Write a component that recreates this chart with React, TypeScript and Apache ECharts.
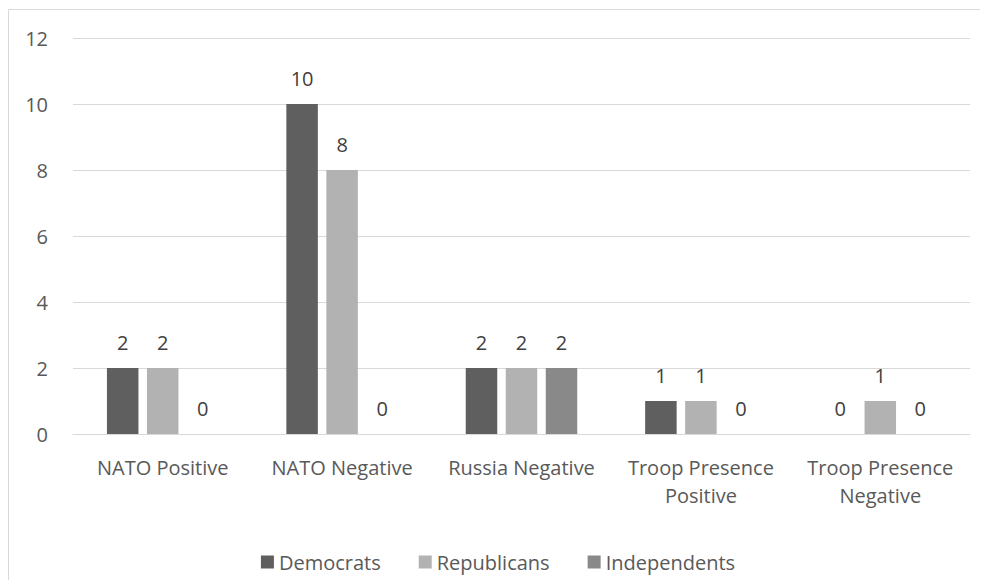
import React, { useEffect, useRef } from "react";
import * as echarts from "echarts";

const categories = [
  "NATO Positive",
  "NATO Negative",
  "Russia Negative",
  "Troop Presence\nPositive",
  "Troop Presence\nNegative",
];
const democrats = [2, 10, 2, 1, 0];
const republicans = [2, 8, 2, 1, 1];
const independents = [0, 0, 2, 0, 0];
const seriesNames = ["Democrats", "Republicans", "Independents"];
const seriesColors = ["#5f5f5f", "#b2b2b2", "#898989"];

const FONT = "'Open Sans', sans-serif";
const FS = 20;

export default function App() {
  const ref = useRef<HTMLDivElement>(null);
  useEffect(() => {
    if (!ref.current) return;
    const chart = echarts.init(ref.current, null, { renderer: "svg" });
    const values = [democrats, republicans, independents];
    chart.setOption({
      animation: false,
      backgroundColor: "#ffffff",
      textStyle: { fontFamily: FONT },
      graphic: [
        {
          type: "rect",
          shape: { x: 0.5, y: 1.5, width: 1200, height: 1000 },
          style: { fill: "none", stroke: "#d9d9d9", lineWidth: 1 },
          silent: true,
        },
      ],
      grid: { left: 65, right: 18, top: 30, bottom: 146, containLabel: false },
      legend: {
        bottom: 3,
        left: "center",
        itemWidth: 13,
        itemHeight: 13,
        itemGap: 38,
        icon: "rect",
        textStyle: { color: "#595959", fontSize: FS, fontFamily: FONT },
        data: seriesNames,
      },
      xAxis: {
        type: "category",
        data: categories,
        axisLine: { show: true, lineStyle: { color: "#d9d9d9", width: 1 } },
        axisTick: { show: false },
        axisLabel: {
          color: "#595959",
          fontSize: FS,
          fontFamily: FONT,
          margin: 19,
          lineHeight: 28,
          interval: 0,
        },
      },
      yAxis: {
        type: "value",
        min: 0,
        max: 12,
        interval: 2,
        axisLine: { show: false },
        axisTick: { show: false },
        splitLine: { lineStyle: { color: "#d9d9d9", width: 1 } },
        axisLabel: { color: "#595959", fontSize: FS, fontFamily: FONT, margin: 25 },
      },
      series: seriesNames.map((name, i) => ({
        name,
        type: "bar",
        data: values[i],
        barWidth: 31.5,
        barGap: "27%",
        itemStyle: { color: seriesColors[i] },
        label: {
          show: true,
          position: "top",
          distance: 16,
          color: "#404040",
          fontSize: FS,
          fontFamily: FONT,
        },
      })),
    });
    return () => chart.dispose();
  }, []);
  return <div ref={ref} style={{ width: 980, height: 572 }} />;
}
